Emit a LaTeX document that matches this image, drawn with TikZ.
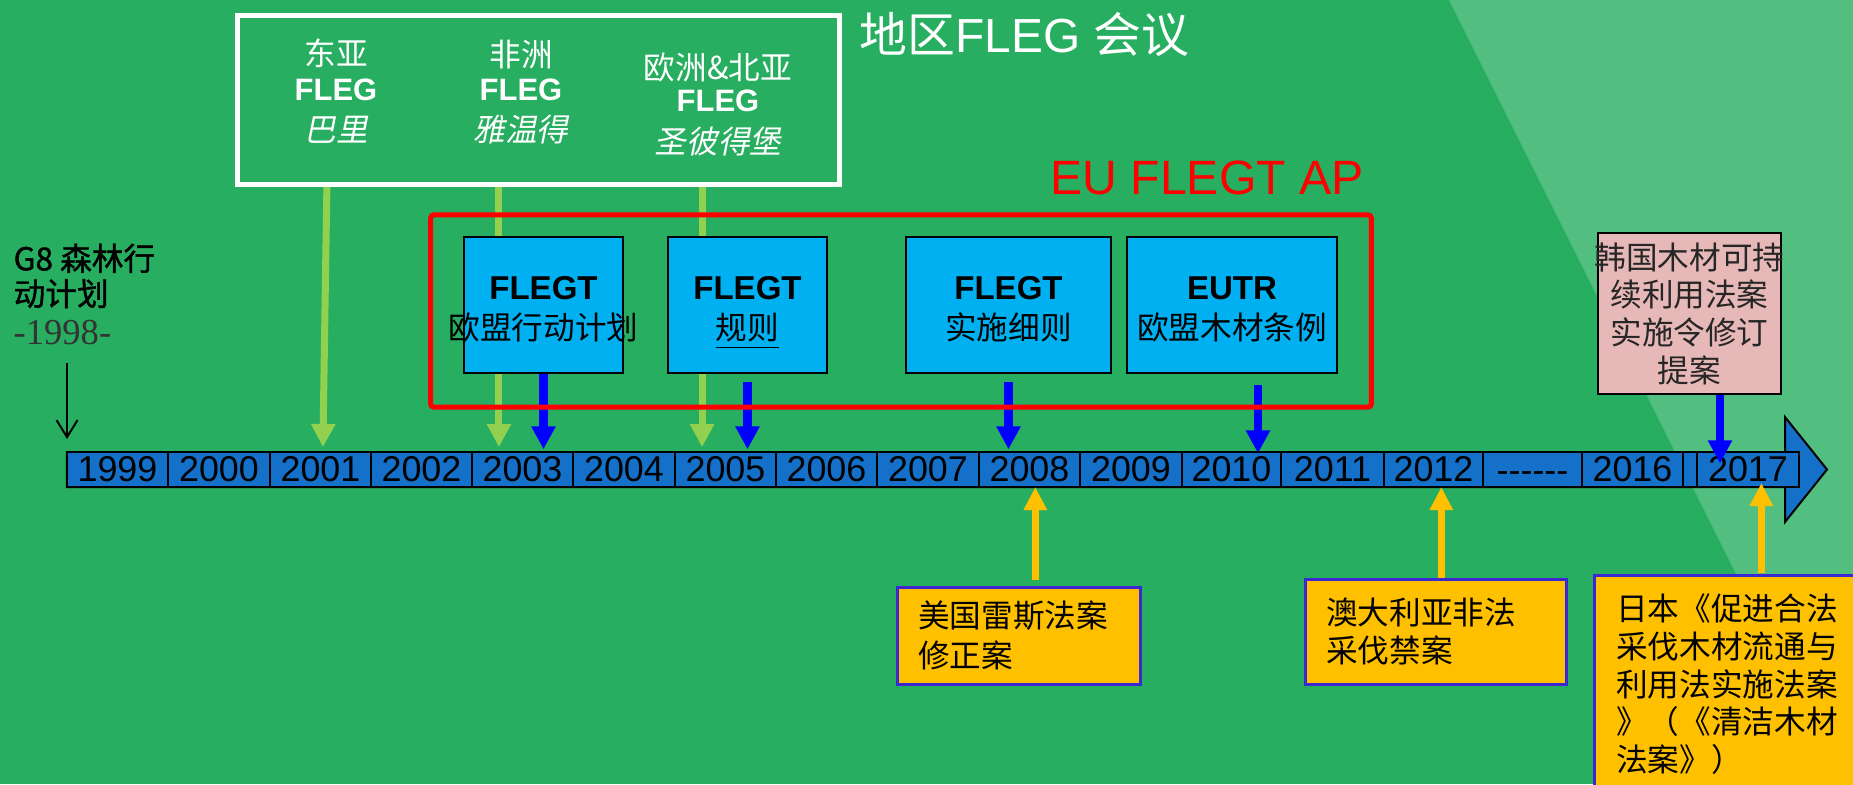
\documentclass[tikz,border=0pt]{standalone}
\usepackage{fontspec}
\setmainfont{Liberation Sans}
\newfontfamily\cjk{Noto Sans CJK SC}
\newfontfamily\cjkit[FakeSlant=0.2]{Noto Sans CJK SC}
\newfontfamily\cjkb[FakeBold=1.2]{Noto Sans CJK SC}
\newfontfamily\serifn{Liberation Serif}
\usetikzlibrary{arrows.meta}
\definecolor{bgg}{RGB}{39,174,96}
\definecolor{bgl}{RGB}{82,190,128}
\definecolor{lgreen}{RGB}{146,208,80}
\definecolor{cyanbox}{RGB}{0,176,240}
\definecolor{arrblue}{RGB}{0,0,255}
\definecolor{barblue}{RGB}{20,112,200}
\definecolor{yel}{RGB}{255,192,0}
\definecolor{ybord}{RGB}{60,40,210}
\definecolor{pinkbox}{RGB}{230,184,183}
\newcommand{\boxhead}[1]{{\normalfont\bfseries\fontsize{9.4}{11.4}\selectfont\rule{0pt}{0.32cm}#1}}
\tikzset{
  yearcell/.style={draw=black, line width=0.02cm, fill=barblue, minimum height=0.35cm, inner sep=0pt, font=\fontsize{10.2}{12}\selectfont},
  eubox/.style={draw=black, line width=0.025cm, fill=cyanbox, minimum height=1.36cm, align=center, inner sep=0pt, font=\cjk\fontsize{9}{11.4}\selectfont},
  ybox/.style={draw=ybord, line width=0.025cm, fill=yel, align=left, inner ysep=0pt, anchor=north west},
  whitetxt/.style={text=white, inner sep=0pt},
  garrow/.style={draw=lgreen, line width=0.07cm, -{Triangle[length=0.23cm,width=0.23cm]}},
  barrow/.style={draw=arrblue, line width=0.085cm, -{Triangle[length=0.23cm,width=0.23cm]}},
  yarrow/.style={draw=yel, line width=0.07cm, -{Triangle[length=0.23cm,width=0.22cm]}},
  karrow/.style={draw=black, line width=0.02cm, -{Straight Barb[length=0.17cm,width=0.21cm]}},
}
\begin{document}
\begin{tikzpicture}[x=0.01cm,y=-0.01cm]
\useasboundingbox (0,0) rectangle (1853,784);
\clip (0,0) rectangle (1853,784);
\fill[bgg] (0,0) rectangle (1853,784);
\fill[bgl] (1449,0) -- (1853,0) -- (1853,784) -- (1841,784) -- cycle;

% regional FLEG box
\node[draw=white, line width=0.05cm, minimum width=6.02cm, minimum height=1.69cm, inner sep=0pt] (wb) at (538.5,100) {};
\node[whitetxt, font=\cjk\fontsize{9}{11}\selectfont] (ea1) at (336,53) {东亚};
\node[whitetxt, font=\bfseries\fontsize{8.8}{11}\selectfont] (ea2) at (336,90) {FLEG};
\node[whitetxt, font=\cjkit\fontsize{9}{11}\selectfont] (ea3) at (336,130) {巴里};
\node[whitetxt, font=\cjk\fontsize{9}{11}\selectfont] (af1) at (521,55) {非洲};
\node[whitetxt, font=\bfseries\fontsize{8.8}{11}\selectfont] (af2) at (521,90) {FLEG};
\node[whitetxt, font=\cjkit\fontsize{9}{11}\selectfont] (af3) at (521,130) {雅温得};
\node[whitetxt, font=\cjk\fontsize{9}{11}\selectfont] (eu1) at (718,68) {欧洲\&北亚};
\node[whitetxt, font=\bfseries\fontsize{8.8}{11}\selectfont] (eu2) at (718,101) {FLEG};
\node[whitetxt, font=\cjkit\fontsize{9}{11}\selectfont] (eu3) at (718,141) {圣彼得堡};
\node[whitetxt, anchor=west, font=\fontsize{13.6}{16}\selectfont] (title) at (859,34) {{\cjk 地区}FLEG {\cjk 会议}};

% green arrows
\draw[garrow] ([xshift=-2.115cm]wb.south) -- ++(-4,260);
\draw[garrow] ([xshift=-0.395cm]wb.south) -- ++(0,260);
\draw[garrow] ([xshift=1.635cm]wb.south) -- ++(0,260);

% EU boxes
\node[eubox, minimum width=1.59cm] (b1) at (543.5,305) {\boxhead{FLEGT}\\\makebox[0pt]{欧盟行动计划}};
\node[eubox, minimum width=1.59cm] (b2) at (747.5,305) {\boxhead{FLEGT}\\\raisebox{0pt}[\height][0.022cm]{\underline{规则}}};
\node[eubox, minimum width=2.05cm] (b3) at (1008.5,305) {\boxhead{FLEGT}\\实施细则};
\node[eubox, minimum width=2.10cm] (b4) at (1232,305) {\boxhead{EUTR}\\\makebox[0pt]{欧盟木材条例}};

% blue arrows
\draw[barrow] (b1.south) -- ++(0,75);
\draw[barrow] ([yshift=-0.08cm]b2.south) -- ++(0,67);
\draw[barrow] ([yshift=-0.08cm]b3.south) -- ++(0,67);
\draw[barrow] ([xshift=0.26cm,yshift=-0.11cm]b4.south) -- ++(0,68);

% red frame
\node[draw=red, line width=0.05cm, minimum width=9.40cm, minimum height=1.92cm, rounded corners=0.03cm, inner sep=0pt] (ap) at (901,311) {};
\node[text=red, inner sep=0pt, font=\fontsize{13.7}{16}\selectfont] (aplabel) at (1207,178) {EU FLEGT AP};

% timeline arrow
\draw[fill=barblue, draw=black, line width=0.02cm] (67,452) -- (1785,452) -- (1785,417) -- (1827,469.5) -- (1785,522) -- (1785,487) -- (67,487) -- cycle;
\foreach \l/\r/\t/\n in {67/168/1999/y1999,168/270/2000/y2000,270/371/2001/y2001,371/472/2002/y2002,472/573/2003/y2003,573/675/2004/y2004,675/776/2005/y2005,776/877/2006/y2006,877/979/2007/y2007,979/1080/2008/y2008,1080/1182/2009/y2009,1182/1281/2010/y2010,1281/1384/2011/y2011,1384/1483/2012/y2012,1483/1582/{\vphantom{2}-{}-{}-{}-{}-{}-}/ydash,1582/1683/2016/y2016,1683/1697/{}/ygap,1697/1799/2017/y2017}{
  \pgfmathsetmacro\cw{(\r-\l)/100}
  \pgfmathsetmacro\cx{(\l+\r)/2}
  \node[yearcell, minimum width=\cw cm] (\n) at (\cx,469.5) {\t};
}

% G8
\node[anchor=north west, align=left, inner sep=0pt, font=\cjkb\fontsize{9}{10}\selectfont] (g8) at (13,243) {G8 森林行\\动计划};
\node[anchor=west, inner sep=0pt, text=black!80, font=\serifn\fontsize{10.4}{12}\selectfont] (yr98) at (13,333) {-1998-};
\draw[karrow] ([xshift=0.54cm,yshift=-0.30cm]yr98.west) -- ++(0,76);

% Korea
\node[draw=black, line width=0.025cm, fill=pinkbox, minimum width=1.83cm, minimum height=1.61cm, align=center, inner sep=0pt, text=black!85, font=\cjk\fontsize{9}{10.7}\selectfont] (kr) at (1689.5,313.5) {\makebox[0pt]{韩国木材可持}\\续利用法案\\实施令修订\\提案};
\draw[barrow] ([xshift=0.305cm]kr.south) -- ++(0,68);

% yellow boxes
\node[ybox, text width=2.01cm, inner xsep=0.21cm, minimum height=0.97cm, font=\cjk\fontsize{9}{11.4}\selectfont] (us) at (896,586) {美国雷斯法案\\修正案};
\node[ybox, text width=2.19cm, inner xsep=0.21cm, minimum height=1.05cm, font=\cjk\fontsize{9}{10.8}\selectfont] (au) at (1304,578) {澳大利亚非法\\采伐禁案};
\node[ybox, text width=2.30cm, inner xsep=0.22cm, minimum height=2.18cm, font=\cjk\fontsize{9}{10.7}\selectfont] (jp) at (1593,574) {日本《促进合法\\采伐木材流通与\\利用法实施法案\\》（《清洁木材\\法案》）};
\draw[yarrow] ([xshift=0.165cm,yshift=0.06cm]us.north) -- ++(0,-93);
\draw[yarrow] ([xshift=0.055cm]au.north) -- ++(0,-91);
\draw[yarrow] ([xshift=0.30cm,yshift=0.01cm]jp.north) -- ++(0,-90);
\end{tikzpicture}
\end{document}
